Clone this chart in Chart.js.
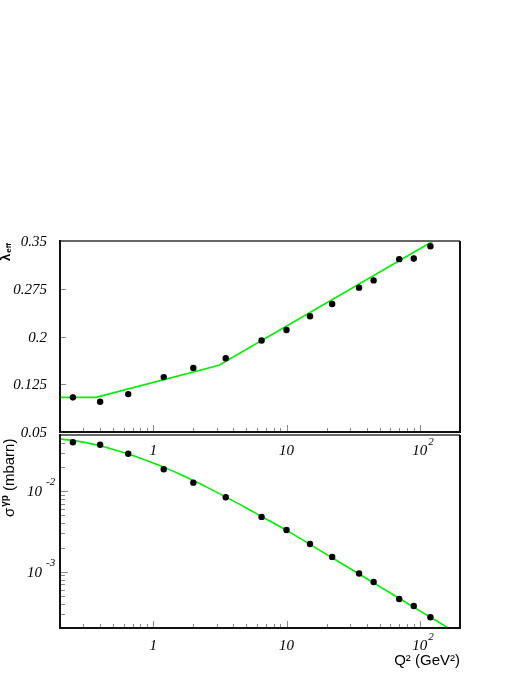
<!DOCTYPE html>
<html>
<head>
<meta charset="utf-8">
<script src="https://cdn.jsdelivr.net/npm/chart.js@4/dist/chart.umd.min.js"></script>
<style>
  body { margin: 0; background: #fff; }
  #wrap { position: relative; width: 523px; height: 677px; }
  canvas { position: absolute; left: 0; }
  #sigmaChart { top: 420px; }
  #lambdaChart { top: 0; }
</style>
</head>
<body>
<div id="wrap">
  <canvas id="sigmaChart" width="523" height="257"></canvas>
  <canvas id="lambdaChart" width="523" height="470"></canvas>
</div>
<script>
// measured points (same Q2 bins in both panels)
const q2 = [0.25, 0.4, 0.65, 1.2, 2, 3.5, 6.5, 10, 15, 22, 35, 45, 70, 90, 120];
const lambdaEff = [0.1044, 0.0975, 0.1095, 0.1362, 0.1507, 0.1659, 0.1937, 0.2103, 0.2317, 0.2510, 0.2767, 0.2881, 0.3215, 0.3226, 0.3419];
const lambdaErr = [0.005, 0.002, 0.002, 0.002, 0.002, 0.002, 0.002, 0.002, 0.002, 0.002, 0.002, 0.002, 0.003, 0.005, 0.005];
const sigmaGp = [0.0407, 0.0379, 0.0293, 0.01875, 0.0128, 0.00842, 0.0048, 0.0033, 0.00221, 0.00153, 0.000952, 0.000747, 0.000459, 0.000376, 0.000272];

// fit curves (green)
const lambdaFitQ2 = [0.2, 0.372, 3.12, 126];
const lambdaFit = [0.1044, 0.1044, 0.155, 0.35];
const sigmaFitQ2 = [0.2, 0.3, 0.4, 0.65, 1, 1.3, 1.53, 2, 2.7, 3.5, 5, 6.5, 10, 22, 45, 100, 162];
const sigmaFit = [0.0447, 0.0408, 0.0368, 0.029, 0.02244, 0.01883, 0.01675, 0.01362, 0.01064, 0.00851, 0.0062, 0.00486, 0.00327, 0.00149, 0.000728, 0.000327, 0.000202];

// tick labels
const xTickVals = [1, 10, 100];
const xTickLabels = ['1', '10', '10^2'];
const lambdaTickVals = [0.05, 0.125, 0.2, 0.275, 0.35];
const lambdaTickLabels = ['0.05', '0.125', '0.2', '0.275', '0.35'];
const sigmaTickVals = [0.01, 0.001];
const sigmaTickLabels = ['10^-2', '10^-3'];

const serif = '"Liberation Serif", "DejaVu Serif", serif';
const sans = '"Liberation Sans", Arial, sans-serif';

function logSteps(min, max) {
  let out = [];
  for (let e = Math.floor(Math.log10(min)); e <= Math.ceil(Math.log10(max)); e++) {
    for (let k = 1; k <= 9; k++) {
      let v = k * Math.pow(10, e);
      if (v > min * 1.0001 && v < max * 0.9999) out.push({ v: v, major: k === 1 });
    }
  }
  return out;
}

// "10^2" -> 10 with a raised exponent
function tickLabel(ctx, label, x, y, mode) {
  let parts = label.split('^');
  ctx.font = 'italic 15px ' + serif;
  ctx.textBaseline = 'alphabetic';
  let w = ctx.measureText(parts[0]).width;
  let left = mode === 'center' ? x - w / 2 : x - w;
  ctx.textAlign = 'left';
  ctx.fillText(parts[0], left, y);
  if (parts[1]) {
    ctx.font = 'italic 11px ' + serif;
    ctx.fillText(parts[1], left + w + (mode === 'center' ? 1 : 4), y - (mode === 'center' ? 10 : 11));
  }
}

function drawFrame(ctx, a) {
  ctx.lineWidth = 2;
  ctx.strokeStyle = '#666';
  ctx.beginPath();
  ctx.moveTo(a.left, a.top); ctx.lineTo(a.right, a.top);
  ctx.stroke();
  ctx.strokeStyle = '#111';
  ctx.beginPath();
  ctx.moveTo(a.right, a.top); ctx.lineTo(a.right, a.bottom);
  ctx.moveTo(a.left, a.top - 1); ctx.lineTo(a.left, a.bottom);
  ctx.lineTo(a.right + 1, a.bottom);
  ctx.stroke();
}

function drawXTicks(ctx, chart) {
  let xs = chart.scales.x, a = chart.chartArea;
  ctx.strokeStyle = '#888';
  ctx.lineWidth = 1;
  logSteps(xs.min, xs.max).forEach(t => {
    let px = Math.round(xs.getPixelForValue(t.v)) + 0.5;
    ctx.beginPath();
    ctx.moveTo(px, a.bottom - 1);
    ctx.lineTo(px, a.bottom - (t.major ? 7 : 4));
    ctx.stroke();
  });
}

const lambdaDecor = {
  id: 'lambdaDecor',
  beforeDatasetsDraw(chart) {
    let ctx = chart.ctx, xs = chart.scales.x, ys = chart.scales.y;
    ctx.save();
    ctx.strokeStyle = '#333';
    ctx.lineWidth = 1;
    q2.forEach((q, i) => {
      let px = xs.getPixelForValue(q);
      ctx.beginPath();
      ctx.moveTo(px, ys.getPixelForValue(lambdaEff[i] - lambdaErr[i]));
      ctx.lineTo(px, ys.getPixelForValue(lambdaEff[i] + lambdaErr[i]));
      ctx.stroke();
    });
    ctx.restore();
  },
  afterDraw(chart) {
    let ctx = chart.ctx, a = chart.chartArea, xs = chart.scales.x, ys = chart.scales.y;
    ctx.save();
    drawXTicks(ctx, chart);
    ctx.strokeStyle = '#888';
    lambdaTickVals.forEach(v => {
      let py = Math.round(ys.getPixelForValue(v)) + 0.5;
      ctx.beginPath();
      ctx.moveTo(a.left + 1, py);
      ctx.lineTo(a.left + 6, py);
      ctx.stroke();
    });
    drawFrame(ctx, a);
    ctx.fillStyle = '#000';
    lambdaTickVals.forEach((v, i) => {
      tickLabel(ctx, lambdaTickLabels[i], 47, ys.getPixelForValue(v) + 5, 'right');
    });
    xTickVals.forEach((v, i) => {
      tickLabel(ctx, xTickLabels[i], xs.getPixelForValue(v), 455, 'center');
    });
    // y title: lambda_eff
    ctx.translate(10, 261);
    ctx.rotate(-Math.PI / 2);
    ctx.textAlign = 'left';
    ctx.font = 'bold 13px ' + sans;
    ctx.fillText('λ', 0, 0);
    let w = ctx.measureText('λ').width;
    ctx.font = 'bold 8px ' + sans;
    ctx.fillText('eff', w + 1, 1);
    ctx.restore();
  }
};

const sigmaDecor = {
  id: 'sigmaDecor',
  afterDraw(chart) {
    let ctx = chart.ctx, a = chart.chartArea, xs = chart.scales.x, ys = chart.scales.y;
    ctx.save();
    drawXTicks(ctx, chart);
    ctx.strokeStyle = '#888';
    ctx.lineWidth = 1;
    logSteps(ys.min, ys.max).forEach(t => {
      let py = Math.round(ys.getPixelForValue(t.v)) + 0.5;
      ctx.beginPath();
      ctx.moveTo(a.left + 1, py);
      ctx.lineTo(a.left + (t.major ? 8 : 5), py);
      ctx.stroke();
    });
    drawFrame(ctx, a);
    ctx.fillStyle = '#000';
    sigmaTickVals.forEach((v, i) => {
      tickLabel(ctx, sigmaTickLabels[i], 42, ys.getPixelForValue(v) + 5, 'right');
    });
    xTickVals.forEach((v, i) => {
      tickLabel(ctx, xTickLabels[i], xs.getPixelForValue(v), 230, 'center');
    });
    // x title
    ctx.font = '15px ' + sans;
    ctx.textAlign = 'right';
    ctx.fillText('Q² (GeV²)', a.right, 245);
    // y title: sigma^gamma p (mbarn)
    ctx.translate(14, 97);
    ctx.rotate(-Math.PI / 2);
    ctx.textAlign = 'left';
    ctx.font = '15px ' + sans;
    ctx.fillText('σ', 0, 0);
    let w = ctx.measureText('σ').width;
    ctx.font = 'bold 10px ' + sans;
    ctx.fillText('γp', w + 1, -6);
    w += ctx.measureText('γp').width + 5;
    ctx.font = '15px ' + sans;
    ctx.fillText('(mbarn)', w, 0);
    ctx.restore();
  }
};

function hiddenAxis(extra) {
  return Object.assign({
    grid: { display: false, drawTicks: false },
    border: { display: false },
    ticks: { display: false }
  }, extra);
}

function panel(canvasId, fitQ2, fitVals, vals, yAxis, padTop, xHeight, smooth, decor) {
  return new Chart(document.getElementById(canvasId), {
    type: 'scatter',
    data: {
      datasets: [
        {
          data: fitQ2.map((x, i) => ({ x: x, y: fitVals[i] })),
          showLine: true,
          borderColor: '#00ee00',
          borderWidth: 1.6,
          pointRadius: 0,
          tension: smooth ? 0.3 : 0,
          cubicInterpolationMode: smooth ? 'monotone' : 'default',
          order: 1
        },
        {
          data: q2.map((x, i) => ({ x: x, y: vals[i] })),
          pointRadius: 3.2,
          backgroundColor: '#000',
          borderColor: '#000',
          borderWidth: 0,
          order: 0
        }
      ]
    },
    options: {
      responsive: false,
      animation: false,
      events: [],
      layout: { padding: { top: padTop, right: 63, left: 0, bottom: 0 } },
      plugins: { legend: { display: false }, tooltip: { enabled: false } },
      scales: {
        x: hiddenAxis({ type: 'logarithmic', min: 0.2, max: 200, afterFit: s => { s.height = xHeight; } }),
        y: hiddenAxis(Object.assign(yAxis, { afterFit: s => { s.width = 60; } }))
      }
    },
    plugins: [decor]
  });
}

panel('lambdaChart', lambdaFitQ2, lambdaFit, lambdaEff,
  { type: 'linear', min: 0.05, max: 0.35 }, 241, 38, false, lambdaDecor);
panel('sigmaChart', sigmaFitQ2, sigmaFit, sigmaGp,
  { type: 'logarithmic', min: 0.0002, max: 0.05 }, 15, 49, true, sigmaDecor);
</script>
</body>
</html>
